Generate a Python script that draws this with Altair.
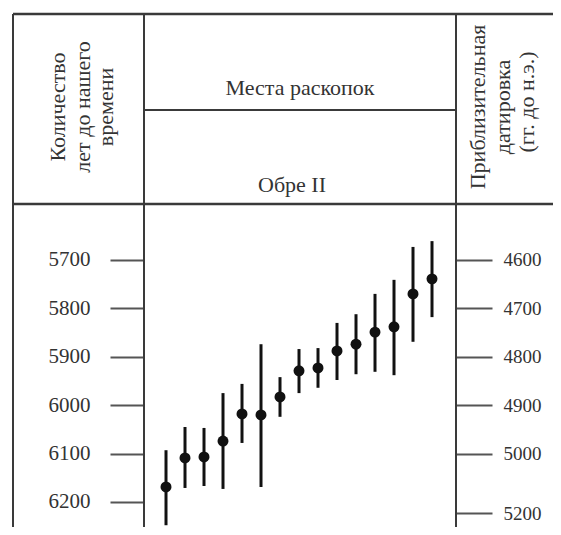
import altair as alt
import pandas as pd

# ---- data ----
sample_no = list(range(1, 16))
years_bp = [6169, 6109, 6107, 6074, 6018, 6020, 5983, 5929, 5923, 5888, 5874, 5849, 5838, 5770, 5739]
years_lo = [6093, 6045, 6047, 5975, 5956, 5874, 5942, 5884, 5882, 5830, 5812, 5770, 5741, 5673, 5661]
years_hi = [6248, 6171, 6167, 6173, 6078, 6169, 6024, 5975, 5964, 5948, 5936, 5931, 5938, 5869, 5818]

left_ticks = [5700, 5800, 5900, 6000, 6100, 6200]
right_tick_pos = [5700, 5800, 5900, 6000, 6100, 6223]
right_tick_labels = ["4600", "4700", "4800", "4900", "5000", "5200"]

title_site = "Места раскопок"
title_sub = "Обре II"
left_head = ["Количество", "лет до нашего", "времени"]
right_head = ["Приблизительная", "датировка", "(гг. до н.э.)"]

df = pd.DataFrame({"n": sample_no, "y": years_bp, "lo": years_lo, "hi": years_hi})

FONT = "Liberation Serif"
INK = "#333333"
LINE = "#3a3a3a"
W, H = 312, 323

xs = alt.Scale(domain=[-0.158, 16.263], nice=False, zero=False)
ys = alt.Scale(domain=[5584.3, 5584.3 + H / 0.484], reverse=True, nice=False, zero=False)

label_expr = " : ".join(
    f"datum.value == {p} ? '{l}'" for p, l in zip(right_tick_pos, right_tick_labels)
) + " : ''"

base = alt.Chart(df)

bars = base.mark_rule(color="#111", strokeWidth=3).encode(
    x=alt.X("n:Q", scale=xs, axis=None),
    y=alt.Y("lo:Q", scale=ys, axis=alt.Axis(
        orient="right", values=right_tick_pos, labelExpr=label_expr, title=None,
        domain=False, grid=False, tickSize=36, tickWidth=2, tickColor="#555",
        labelPadding=11, labelFont=FONT, labelFontSize=19, labelColor=INK)),
    y2="hi:Q",
)

pts = base.mark_point(filled=True, color="#111", size=120, opacity=1, shape="circle").encode(
    x=alt.X("n:Q", scale=xs, axis=None),
    y=alt.Y("y:Q", scale=ys, axis=alt.Axis(
        orient="left", values=left_ticks, format="d", title=None,
        domain=False, grid=False, tickSize=34, tickWidth=2, tickColor="#555",
        labelPadding=20, labelFont=FONT, labelFontSize=21, labelColor=INK)),
)

one = alt.Data(values=[{}])


def rule(x, x2, y, y2, w=2):
    return alt.Chart(one).mark_rule(color=LINE, strokeWidth=w).encode(
        x=alt.value(x), x2=alt.value(x2), y=alt.value(y), y2=alt.value(y2))


def txt(s, x, y, angle=0, size=22):
    return alt.Chart(one).mark_text(
        text=s, font=FONT, fontSize=size, color=INK, angle=angle,
        align="center", baseline="middle").encode(x=alt.value(x), y=alt.value(y))


lines = [
    rule(-131, 420, -190, -190, 2.5),   # top border
    rule(-131, -131, -190, H + 10),     # left border
    rule(0, 0, -190, H + 10),           # left column divider
    rule(W, W, -190, H + 10),           # right column divider
    rule(0, W, -94, -94),               # header split
    rule(-131, 420, 0, 0, 2.5),         # header bottom
]

texts = [
    txt(title_site, 156, -116),
    txt(title_sub, 148, -19),
    txt(left_head[0], -86, -97, 270),
    txt(left_head[1], -61, -97, 270),
    txt(left_head[2], -38, -97, 270),
    txt(right_head[0], 334, -97, 270),
    txt(right_head[1], 359, -97, 270),
    txt(right_head[2], 383, -102, 270),
]

chart = alt.layer(*lines, bars, pts, *texts).resolve_scale(y="independent").resolve_axis(
    y="independent"
).properties(
    width=W, height=H,
    autosize=alt.AutoSizeParams(type="none"),
    padding={"left": 136, "top": 196, "right": 97, "bottom": 0},
    background="white",
).configure_view(stroke=None)

chart.save("out.html", embed_options={"renderer": "svg", "actions": False})
